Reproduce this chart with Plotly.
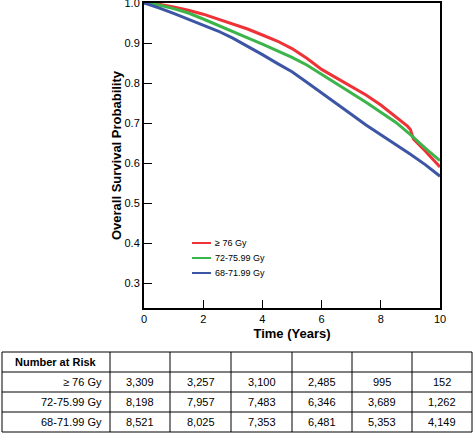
import plotly.graph_objects as go

# ---- data ----
series_names = ["≥ 76 Gy", "72-75.99 Gy", "68-71.99 Gy"]
series_colors = ["#EE3237", "#3BB54A", "#3D55A5"]

time_red = [0, 0.5, 1, 1.5, 2, 2.5, 3, 3.5, 4, 4.5, 5, 5.5, 6, 6.5, 7, 7.5, 8, 8.5, 8.9, 9.0, 9.1, 9.5, 9.7, 10]
surv_red = [1.0, 0.997, 0.990, 0.982, 0.972, 0.960, 0.948, 0.935, 0.920, 0.905, 0.886, 0.862, 0.834, 0.812,
            0.792, 0.770, 0.745, 0.716, 0.692, 0.684, 0.660, 0.630, 0.614, 0.590]

time_green = [0, 0.5, 1, 1.5, 2, 2.5, 3, 3.5, 4, 4.5, 5, 5.5, 6, 6.5, 7, 7.5, 8, 8.5, 9, 9.5, 10]
surv_green = [1.0, 0.995, 0.986, 0.975, 0.960, 0.945, 0.928, 0.913, 0.897, 0.881, 0.864, 0.845, 0.822, 0.800,
              0.775, 0.752, 0.727, 0.702, 0.671, 0.637, 0.606]

time_blue = [0, 0.5, 1, 1.5, 2, 2.5, 3, 3.5, 4, 4.5, 5, 5.5, 6, 6.5, 7, 7.5, 8, 8.5, 9, 9.5, 10]
surv_blue = [1.0, 0.988, 0.974, 0.960, 0.946, 0.930, 0.912, 0.892, 0.871, 0.849, 0.828, 0.802, 0.776, 0.748,
             0.722, 0.695, 0.671, 0.648, 0.622, 0.596, 0.567]

x_ticks = [0, 2, 4, 6, 8, 10]
y_ticks = [0.3, 0.4, 0.5, 0.6, 0.7, 0.8, 0.9, 1.0]

risk_header = "Number at Risk"
risk_at_76 = [3309, 3257, 3100, 2485, 995, 152]
risk_72_75 = [8198, 7957, 7483, 6346, 3689, 1262]
risk_68_71 = [8521, 8025, 7353, 6481, 5353, 4149]

W, H = 473, 436
FONT = "Liberation Sans, Arial, Helvetica, sans-serif"


def px(x):
    return x / W


def py(y):
    return 1 - y / H


fig = go.Figure()
for name, col, t, s in zip(series_names, series_colors,
                           [time_red, time_green, time_blue],
                           [surv_red, surv_green, surv_blue]):
    fig.add_trace(go.Scatter(x=t, y=s, mode="lines", name=name,
                             line=dict(color=col, width=3), showlegend=False))

shapes = []
annotations = []

# ---- legend (inside plot) ----
leg_x0, leg_x1, leg_text_x = 192, 211, 213
leg_y0, leg_dy = 243, 15
for i, (name, col) in enumerate(zip(series_names, series_colors)):
    yy = leg_y0 + i * leg_dy
    shapes.append(dict(type="line", xref="paper", yref="paper",
                       x0=px(leg_x0), x1=px(leg_x1), y0=py(yy), y1=py(yy),
                       line=dict(color=col, width=2)))
    annotations.append(dict(text=name, xref="paper", yref="paper",
                            x=px(leg_text_x), y=py(yy), xanchor="left", yanchor="middle",
                            showarrow=False, font=dict(family=FONT, size=9, color="black")))

# ---- number-at-risk table ----
col_edges = [2, 110, 170, 231, 292, 352, 412, 472]
row_edges = [352, 372, 392, 412, 432]
for xe in col_edges:
    shapes.append(dict(type="line", xref="paper", yref="paper",
                       x0=px(xe), x1=px(xe), y0=py(row_edges[0]), y1=py(row_edges[-1]),
                       line=dict(color="black", width=1)))
for ye in row_edges:
    shapes.append(dict(type="line", xref="paper", yref="paper",
                       x0=px(col_edges[0]), x1=px(col_edges[-1]), y0=py(ye), y1=py(ye),
                       line=dict(color="black", width=1)))

annotations.append(dict(text=f"<b>{risk_header}</b>", xref="paper", yref="paper",
                        x=px((col_edges[0] + col_edges[1]) / 2), y=py((row_edges[0] + row_edges[1]) / 2),
                        xanchor="center", yanchor="middle", showarrow=False,
                        font=dict(family=FONT, size=11, color="black")))
rows = [risk_at_76, risk_72_75, risk_68_71]
for r, (name, vals) in enumerate(zip(series_names, rows)):
    yc = (row_edges[r + 1] + row_edges[r + 2]) / 2
    annotations.append(dict(text=name, xref="paper", yref="paper",
                            x=px(col_edges[1] - 6), y=py(yc), xanchor="right", yanchor="middle",
                            showarrow=False, font=dict(family=FONT, size=11, color="black")))
    for c, v in enumerate(vals):
        xc = (col_edges[c + 1] + col_edges[c + 2]) / 2
        annotations.append(dict(text=f"{v:,}", xref="paper", yref="paper",
                                x=px(xc), y=py(yc), xanchor="center", yanchor="middle",
                                showarrow=False, font=dict(family=FONT, size=11, color="black")))

axis_common = dict(showgrid=False, zeroline=False, showline=True, linecolor="black",
                   linewidth=2, mirror=True, ticks="inside", ticklen=8, tickwidth=1,
                   tickcolor="black", automargin=False, ticklabeloverflow="allow",
                   tickfont=dict(family=FONT, size=11, color="black"))

fig.update_layout(
    template="none",
    width=W, height=H,
    margin=dict(l=0, r=0, t=0, b=0, pad=0),
    paper_bgcolor="white", plot_bgcolor="white",
    font=dict(family=FONT, size=11, color="black"),
    xaxis=dict(domain=[px(144), px(440)], range=[0, 10], tickvals=x_ticks,
               ticktext=[str(v) for v in x_ticks],
               title=dict(text="<b>Time (Years)</b>", font=dict(family=FONT, size=13), standoff=5),
               **axis_common),
    yaxis=dict(domain=[py(308), py(3)], range=[0.2375, 1.0], tickvals=y_ticks,
               ticktext=[f"{v:.1f}" for v in y_ticks],
               title=dict(text="<b>Overall Survival Probability</b>", font=dict(family=FONT, size=13), standoff=0),
               **axis_common),
    showlegend=False,
    shapes=shapes,
    annotations=annotations,
)

fig.write_html("out.html",
               config={"displayModeBar": False},
               post_script="document.body.style.margin='0px';document.body.style.overflow='hidden';")
